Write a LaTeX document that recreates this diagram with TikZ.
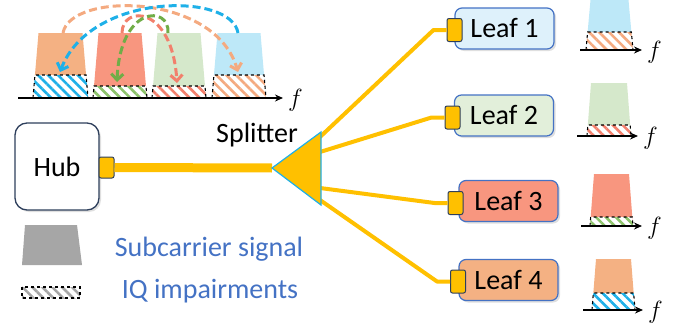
\documentclass[tikz,border=0pt]{standalone}
\usepackage{fontspec}
\setmainfont{Carlito}
\usetikzlibrary{calc,shadows,arrows.meta,patterns.meta}

\definecolor{gold}{HTML}{FFC000}
\definecolor{peach}{HTML}{F4B183}
\definecolor{salmon}{HTML}{F8967F}
\definecolor{mint}{HTML}{D5E8CB}
\definecolor{sky}{HTML}{BDE8F8}
\definecolor{cyanline}{HTML}{1EB0E8}
\definecolor{peachline}{HTML}{F4AA80}
\definecolor{salmonline}{HTML}{F2806C}
\definecolor{greenline}{HTML}{70AD47}
\definecolor{greenhatch}{HTML}{8CC26A}
\definecolor{officeblue}{HTML}{4472C4}
\definecolor{hubborder}{HTML}{2E3F5C}
\definecolor{leafone}{HTML}{DEF1FB}
\definecolor{leaftwo}{HTML}{E2EFDA}
\definecolor{legendgray}{HTML}{A6A6A6}

\begin{document}
\begin{tikzpicture}
[x=1pt,y=-1pt,
  textdecorate/.style={font=\fontsize{28}{32}\selectfont},%
  fdecorate/.style={font=\fontsize{29}{32}\selectfont,inner sep=0pt},%
  hubdecorate/.style={draw=hubborder,line width=1.3pt,fill=white,rounded corners=12pt,
    minimum width=84pt,minimum height=87pt,
    drop shadow={opacity=0.25,shadow xshift=2pt,shadow yshift=-2pt}},%
  leafdecorate/.style={draw=officeblue,line width=1.2pt,rounded corners=7pt,inner sep=0pt,
    minimum width=99pt,minimum height=41pt,
    drop shadow={opacity=0.25,shadow xshift=2pt,shadow yshift=-2pt}},%
  portdecorate/.style={draw=hubborder,line width=1pt,fill=gold,rounded corners=2pt,
    inner sep=0pt,minimum width=15pt,minimum height=23pt},%
  fiberdecorate/.style={gold,line width=4pt,line join=round},%
  hopdecorate/.style={dash pattern=on 8pt off 4pt,line width=3pt,
    -{Straight Barb[length=6pt,width=12pt]}},%
  axisdecorate/.style={line width=1.6pt,-{Stealth[length=8pt,width=7pt]}},%
  hatchdecorate/.style={pattern={Lines[angle=-45,distance=7pt,line width=2.6pt]}}]
\useasboundingbox (0,0) rectangle (678,324);
%% spectra
\foreach \xb/\w/\ins/\yt/\yb/\yh/\fc/\hc in {33/55/5.5/33/98/75/peach/cyanline,
  93/54/5.5/33/98/86/salmon/greenhatch, 152/54/5.5/33/98/86/mint/salmonline,
  212/54/5.5/33/98/75/sky/peachline, 586/47/4.5/0/50/32/sky/peachline,
  587/44/4/83/136/125/mint/salmonline, 590/43/4/174/226/217/salmon/greenhatch,
  592/43/4/259/310/293/peach/cyanline} {
  \fill[\fc] (\xb,\yb) -- (\xb+\ins,\yt) -- (\xb+\w-\ins,\yt) -- (\xb+\w,\yb) -- cycle;
  \coordinate (hl) at ($(\xb,\yb)!{(\yb-\yh)/(\yb-\yt)}!(\xb+\ins,\yt)$);
  \coordinate (hr) at ($(\xb+\w,\yb)!{(\yb-\yh)/(\yb-\yt)}!(\xb+\w-\ins,\yt)$);
  \fill[white] (\xb,\yb) -- (hl) -- (hr) -- (\xb+\w,\yb) -- cycle;
  \fill[hatchdecorate,pattern color=\hc] (\xb,\yb) -- (hl) -- (hr) -- (\xb+\w,\yb) -- cycle;
  \draw[dashed,line width=1.1pt] (\xb,\yb) -- (hl) -- (hr) -- (\xb+\w,\yb);
}
%% impairment hops
\draw[hopdecorate,peachline] (63,33) .. controls (70,-8) and (215,-8) .. (238,72);
\draw[hopdecorate,cyanline] (238,33) .. controls (232,-8) and (90,-8) .. (60,72);
\draw[hopdecorate,salmonline] (122,33) .. controls (122,5) and (172,5) .. (177,83);
\draw[hopdecorate,greenline] (168,33) .. controls (170,5) and (120,5) .. (117,82);
%% frequency axes
\foreach \name/\xa/\xe/\ya in {ftop/18/283/98, fone/580/642/50, ftwo/577/638/136,
  fthree/581/642/226, ffour/583/643/310} {
  \draw[axisdecorate] (\xa,\ya) -- (\xe,\ya);
  \node[fdecorate,anchor=west] (\name) at (\xe+5,\ya+2) {$f$};
}
%% legend
\fill[legendgray] (22,265) -- (25,225) -- (77,225) -- (82,265) -- cycle;
\fill[hatchdecorate,pattern color=legendgray] (22,287) rectangle (80,298);
\draw[dashed,line width=1.1pt] (22,287) rectangle (80,298);
\node[textdecorate,text=officeblue,anchor=base] (sublabel) at (209,256) {Subcarrier signal};
\node[textdecorate,text=officeblue,anchor=base] (iqlabel) at (210,298) {IQ impairments};
%% hub and leaves
\node[hubdecorate,textdecorate] (hub) at (57,166.5) {Hub};
\node[portdecorate,minimum height=21pt] (hubport) at (106.5,167.5) {};
\foreach \n/\x/\y/\col/\px/\py in {1/504.5/28.5/leafone/454.5/30,
  2/504/115.5/leaftwo/452.5/117.5, 3/508.5/201/salmon/455.5/203,
  4/508.5/280/peach/458/281.5} {
  \node[leafdecorate,textdecorate,fill=\col] (leaf\n) at (\x,\y) {Leaf \n};
  \node[portdecorate] (port\n) at (\px,\py) {};
}
%% fibers
\coordinate (tip) at (272,168);
\draw[gold,line width=9pt] (hubport.east) -- (tip);
\foreach \n/\sy in {1/137, 2/152, 3/188, 4/200} {
  \coordinate (s\n) at (320,\sy);
  \draw[fiberdecorate] (s\n) -- ([xshift=-13pt]port\n.west) -- (port\n.west);
}
\filldraw[fill=gold,draw=cyanline,line width=1.2pt] (tip) -- (321,132) -- (321,205) -- cycle;
\node[textdecorate,anchor=base] (splitlabel) at (257,142) {Splitter};
\end{tikzpicture}
\end{document}
